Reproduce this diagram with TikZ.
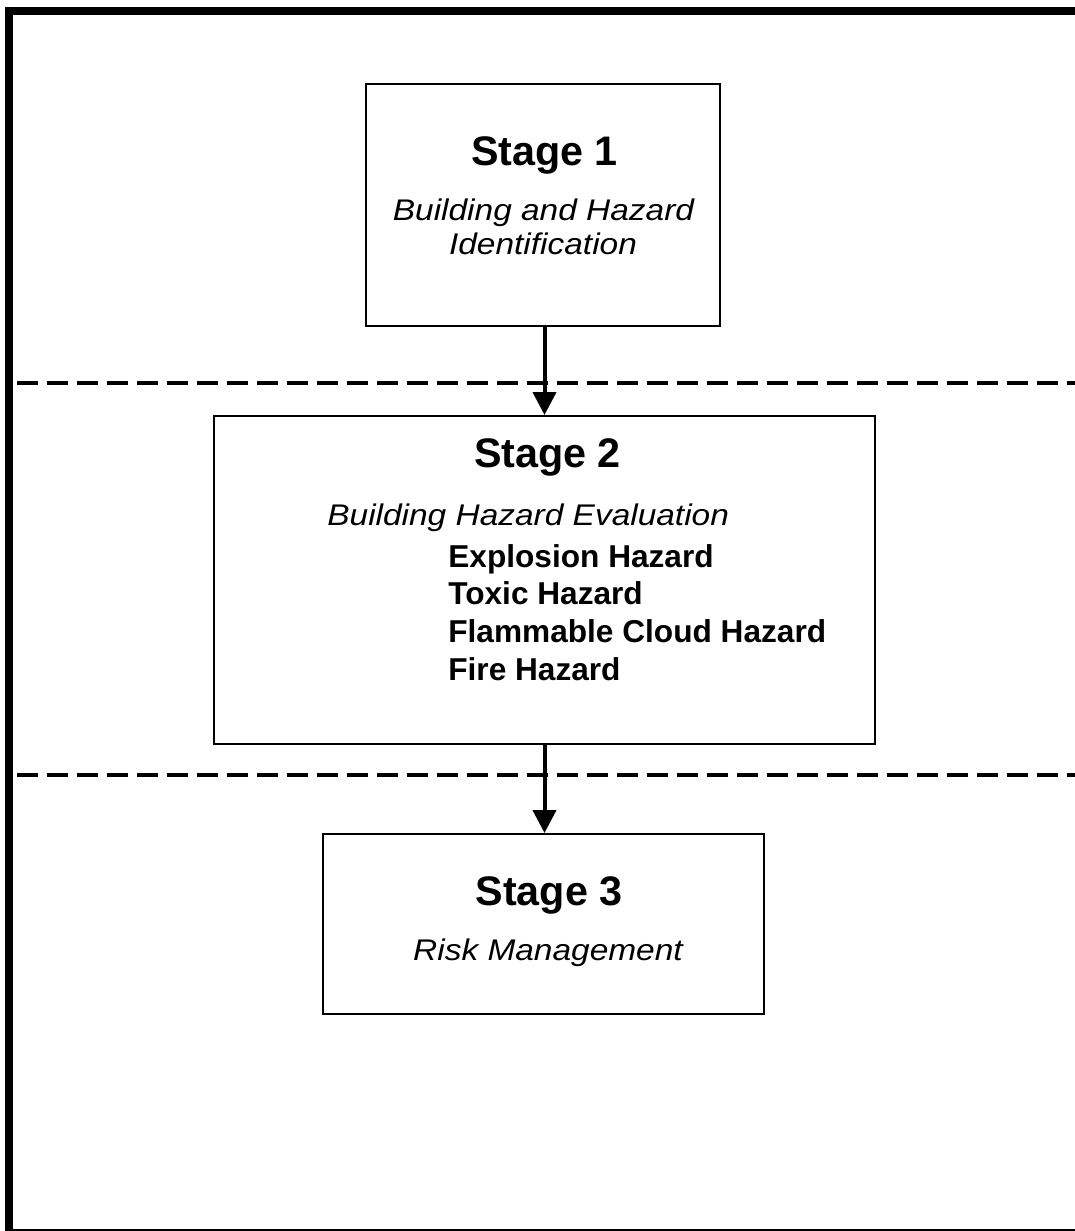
\documentclass[tikz,border=0pt]{standalone}
\usepackage{fontspec}
\setmainfont{Liberation Sans}
\newfontfamily\widesans{Liberation Sans}[FakeStretch=1.12]
\usepackage{tikz}
\usetikzlibrary{arrows.meta,positioning}

\begin{document}
\begin{tikzpicture}[x=0.02cm,y=-0.02cm,
    stagebox/.style={draw,line width=0.04cm,inner sep=0pt},
    stagetitle/.style={anchor=base,inner sep=0pt,font=\fontsize{23.5}{28}\selectfont\bfseries},
    stagenote/.style={anchor=base,inner sep=0pt,font=\fontsize{17}{20}\selectfont\widesans\itshape},
    hazard/.style={anchor=base west,inner sep=0pt,font=\fontsize{18}{21}\selectfont\bfseries},
    flow/.style={line width=0.08cm,-{Triangle[length=0.46cm,width=0.46cm]}},
    divider/.style={line width=0.09cm,dash pattern=on 0.42cm off 0.18cm}
]
\useasboundingbox (0,0) rectangle (1075,1231);
\draw[line width=0.154cm] (9,1231) -- (9,11) -- (1075,11);
\draw[line width=0.05cm] (9,1230) -- (1075,1230);
\draw[divider] (17,383) -- (1075,383);
\draw[divider] (17,775) -- (1075,775);

\node[stagebox,minimum width=7.08cm,minimum height=4.84cm] (s1) at (543,205) {};
\node[stagebox,minimum width=13.22cm,minimum height=6.56cm] (s2) at (544.5,580) {};
\node[stagebox,minimum width=8.82cm,minimum height=3.6cm] (s3) at (543.5,924) {};

\node[stagetitle] (t1) at (544.5,165) {Stage 1};
\node[stagenote] (n1a) at (543.5,220) {Building and Hazard};
\node[stagenote] (n1b) at (543,254) {Identification};

\node[stagetitle] (t2) at (547.5,467) {Stage 2};
\node[stagenote,anchor=base west] (n2) at (327,525) {Building Hazard Evaluation};
\foreach \hz [count=\i] in {Explosion Hazard,Toxic Hazard,Flammable Cloud Hazard,Fire Hazard}
  \node[hazard] (hz\i) at (448,{567+37.7*(\i-1)}) {\hz};

\node[stagetitle] (t3) at (549,905) {Stage 3};
\node[stagenote] (n3) at (548,960) {Risk Management};

\draw[flow] (s2.north |- s1.south) -- (s2.north);
\draw[flow] (s2.south) -- (s2.south |- s3.north);
\end{tikzpicture}
\end{document}
